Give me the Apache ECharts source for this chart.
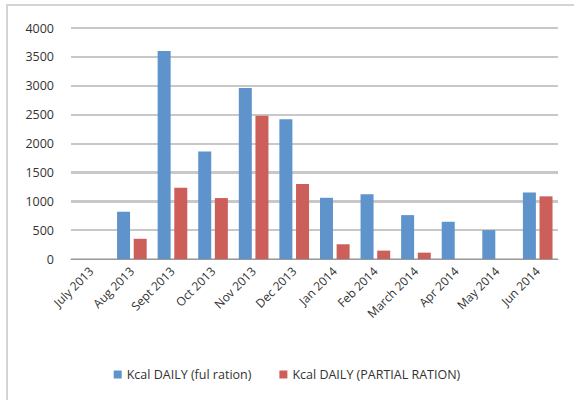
<!DOCTYPE html>
<html>
<head>
<meta charset="utf-8">
<script src="https://cdn.jsdelivr.net/npm/echarts@6/dist/echarts.min.js"></script>
<style>
  html, body { margin: 0; padding: 0; background: #ffffff; }
  #wrap { position: relative; width: 574px; height: 400px; overflow: hidden; }
  #chart { width: 574px; height: 400px; }
  /* Outer frame of the original chart */
  #frame {
    position: absolute; left: 6px; top: 4px; width: 600px; height: 420px;
    border: 2px solid #d4d4d4; pointer-events: none;
  }
</style>
</head>
<body>
<div id="wrap">
  <div id="chart"></div>
  <div id="frame"></div>
</div>
<script>
const months = [
  "July 2013", "Aug 2013", "Sept 2013", "Oct 2013", "Nov 2013", "Dec 2013",
  "Jan 2014", "Feb 2014", "March 2014", "Apr 2014", "May 2014", "Jun 2014"
];
const fullRation = [null, 820, 3600, 1860, 2960, 2420, 1060, 1120, 760, 645, 500, 1150];
const partialRation = [null, 350, 1235, 1055, 2480, 1300, 255, 145, 110, null, null, 1085];
const gridTicks = [500, 1000, 1500, 2000, 2500, 3000, 3500, 4000];

const chart = echarts.init(document.getElementById("chart"), null, { renderer: "svg" });

const options = {
  backgroundColor: "#ffffff",
  animation: false,
  grid: {
    left: 71,
    right: 16,
    top: 28,
    bottom: 141
  },
  legend: {
    bottom: 14,
    left: "center",
    itemWidth: 8,
    itemHeight: 8,
    itemGap: 28,
    icon: "rect",
    textStyle: {
      fontFamily: "Open Sans",
      fontSize: 12.5,
      color: "#333333"
    }
  },
  xAxis: {
    type: "category",
    data: months,
    axisTick: { show: false },
    axisLine: { lineStyle: { color: "#999999", width: 1 } },
    axisLabel: {
      rotate: 45,
      interval: 0,
      margin: 10,
      fontFamily: "Open Sans",
      fontSize: 12,
      color: "#333333"
    }
  },
  yAxis: {
    type: "value",
    min: 0,
    max: 4000,
    interval: 500,
    axisLine: { show: false },
    axisTick: { show: false },
    axisLabel: {
      margin: 17,
      fontFamily: "Open Sans",
      fontSize: 12.5,
      color: "#333333",
      formatter: (v) => String(v)
    },
    splitLine: {
      show: true,
      lineStyle: { color: "#c8c8c8", width: 2 }
    }
  },
  series: [
    {
      name: "Kcal DAILY (ful ration)",
      type: "bar",
      z: 3,
      data: fullRation,
      barWidth: 13,
      barGap: "28%",
      itemStyle: { color: "#5e93cc" }
    },
    {
      name: "Kcal DAILY (PARTIAL RATION)",
      type: "bar",
      z: 3,
      data: partialRation,
      barWidth: 13,
      itemStyle: { color: "#cd5f5a" }
    }
  ]
};

chart.setOption(options);

// Gridlines placed through the y axis scale, behind the bars
const x0 = chart.convertToPixel({ xAxisIndex: 0 }, months[0]);
const rect = chart.getModel().getComponent("grid").coordinateSystem.getRect();
chart.setOption({
  graphic: gridTicks.map((t) => {
    const y = Math.round(chart.convertToPixel({ yAxisIndex: 0 }, t));
    return {
      type: "line",
      z: 0,
      silent: true,
      shape: { x1: rect.x, y1: y, x2: rect.x + rect.width, y2: y },
      style: { stroke: "#c8c8c8", lineWidth: 2 }
    };
  })
});
</script>
</body>
</html>
